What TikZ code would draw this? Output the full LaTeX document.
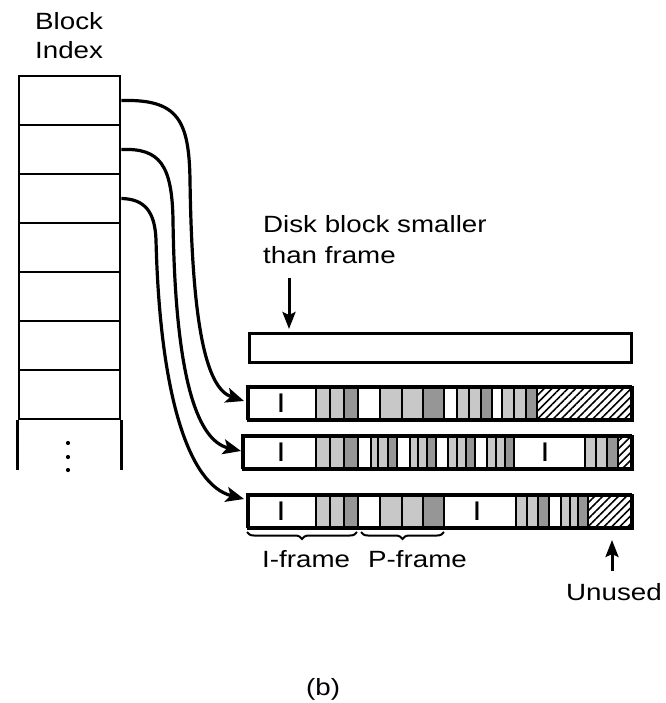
\documentclass[tikz,border=0pt]{standalone}
\usepackage{fontspec}
\setmainfont[FakeStretch=1.18]{Liberation Sans}
\usetikzlibrary{arrows.meta,patterns.meta,decorations.pathreplacing}
\definecolor{lg}{RGB}{200,200,200}
\definecolor{dg}{RGB}{150,150,150}
\tikzset{
  lbl/.style={inner sep=0pt, anchor=base west, font=\fontsize{23.5}{29}\selectfont},
  ilbl/.style={inner sep=0pt, font=\fontsize{27}{27}\selectfont},
  rowbox/.style={draw, line width=2.8pt, minimum width=101pt, minimum height=49pt, inner sep=0pt},
  seg/.style={draw, line width=2.4pt},
  hatch/.style={draw, line width=2.4pt, pattern={Lines[angle=45,distance=5.6pt,line width=1.6pt]}},
  barframe/.style={draw, line width=3pt, inner sep=0pt},
  curvearr/.style={line width=3.2pt, -{Stealth[length=18pt,width=15pt,inset=4pt]}},
  straightarr/.style={line width=3pt, -{Stealth[length=17pt,width=13pt,inset=3pt]}},
  bracestyle/.style={line width=2pt, decorate, decoration={brace, amplitude=7pt}}
}
\begin{document}
\begin{tikzpicture}[x=1pt,y=-1pt]
\useasboundingbox (0,0) rectangle (665,703);
\fill[white] (0,0) rectangle (665,703);

% Block index
\node[lbl] (blk1) at (35,30) {Block};
\node[lbl] (blk2) at (35,59) {Index};
\foreach \i in {1,...,7} {
  \node[rowbox] (r\i) at (69.5, {76+24.5+(\i-1)*49}) {};
}
\draw[line width=2.8pt] (r7.south west) -- ++(0,50) coordinate (r8l);
\draw[line width=2.8pt] (r7.south east) -- ++(0,50) coordinate (r8r);
\foreach \yy/\nm in {443/d1,457/d2,470/d3} \fill (68,\yy) circle (2.1pt) coordinate (\nm);

% Top bar
\node[barframe, minimum width=382pt, minimum height=29pt, anchor=north west] (bar0) at (248,332) {};
\node[lbl] (dsk1) at (263,233) {Disk block smaller};
\node[lbl] (dsk2) at (263,263) {than frame};
\coordinate (dtop) at (289,278);
\coordinate (dtip) at (289,329);
\draw[straightarr] (dtop) -- (dtip);

% Bar 1
\foreach \a/\b/\c in {247/316/white,316/330/lg,330/344/lg,344/358/dg,358/380/white,380/402/lg,402/423/lg,423/444/dg,444/457/white,457/469/lg,469/481/lg,481/492/dg,492/502/white,502/514/lg,514/526/lg,526/537/dg}
  \draw[seg, fill=\c] (\a,386) rectangle (\b,419);
\draw[hatch] (537,386) rectangle (631,419);
\node[barframe, minimum width=384pt, minimum height=33pt, anchor=north west] (bar1) at (247,386) {};
\node[ilbl] (i1) at (281,403) {I};

% Bar 2
\foreach \a/\b/\c in {242/316/white,316/330/lg,330/344/lg,344/358/dg,358/371/white,371/378/lg,378/388/lg,388/397/dg,397/410/white,410/418/lg,418/427/lg,427/436/dg,436/448/white,448/457/lg,457/466/lg,466/475/dg,475/487/white,487/496/lg,496/505/lg,505/514/dg,514/585/white,585/596/lg,596/607/lg,607/618/dg}
  \draw[seg, fill=\c] (\a,435) rectangle (\b,468);
\draw[hatch] (618,435) rectangle (631,468);
\node[barframe, minimum width=389pt, minimum height=33pt, anchor=north west] (bar2) at (242,435) {};
\node[ilbl] (i2) at (281,452) {I};
\node[ilbl] (i3) at (545,452) {I};

% Bar 3
\foreach \a/\b/\c in {247/316/white,316/330/lg,330/344/lg,344/358/dg,358/380/white,380/402/lg,402/423/lg,423/444/dg,444/516/white,516/527/lg,527/538/lg,538/549/dg,549/561/white,561/570/lg,570/578/lg,578/588/dg}
  \draw[seg, fill=\c] (\a,494) rectangle (\b,527);
\draw[hatch] (588,494) rectangle (631,527);
\node[barframe, minimum width=384pt, minimum height=33pt, anchor=north west] (bar3) at (247,494) {};
\node[ilbl] (i4) at (281,511) {I};
\node[ilbl] (i5) at (477,511) {I};

% Curved arrows
\coordinate (t1) at (244,401);
\coordinate (t2) at (241,451);
\coordinate (t3) at (244,499);
\draw[curvearr] (r1.east) .. controls (178,99) and (189,120) .. (190,180)
   .. controls (192,320) and (205,388) .. (t1);
\draw[curvearr] (r2.east) .. controls (160,148) and (172,165) .. (173,220)
   .. controls (175,370) and (195,440) .. (t2);
\draw[curvearr] (r3.east) .. controls (145,199) and (155,212) .. (156,240)
   .. controls (160,400) and (190,485) .. (t3);

% Braces and labels
\coordinate (b1r) at (357,532);
\coordinate (b1l) at (247,532);
\coordinate (b2r) at (444,532);
\coordinate (b2l) at (361,532);
\draw[bracestyle] (b1r) -- (b1l);
\draw[bracestyle] (b2r) -- (b2l);
\node[lbl] (ifr) at (262,567) {I-frame};
\node[lbl] (pfr) at (368,567) {P-frame};

% Unused
\node[lbl] (unused) at (566,600) {Unused};
\coordinate (ubot) at (612,571);
\coordinate (utip) at (612,540);
\draw[straightarr] (ubot) -- (utip);

\node[lbl] (cap) at (306,695) {(b)};
\end{tikzpicture}
\end{document}
